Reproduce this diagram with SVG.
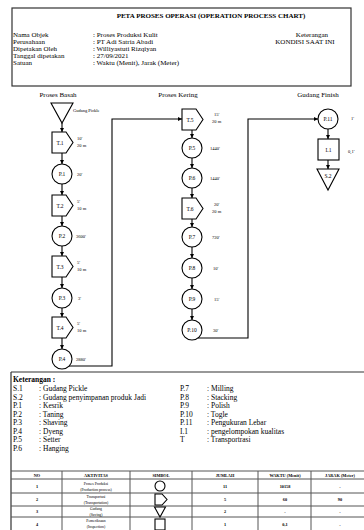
<svg xmlns="http://www.w3.org/2000/svg" width="364" height="530" viewBox="0 0 364 530">
  <style>
    text { font-family: "Liberation Serif", "Times New Roman", serif; fill: #000; }
    .h { font-size: 7px; }
    .hb { font-size: 7px; font-weight: bold; }
    .lg { font-size: 7.5px; }
    .lgb { font-size: 7.5px; font-weight: bold; }
    .ttl { font-size: 7px; }
    .nl { font-size: 5.5px; text-anchor: middle; }
    .sm { font-size: 4.5px; }
    .th { font-size: 4.3px; font-weight: bold; text-anchor: middle; }
    .td { font-size: 3.8px; text-anchor: middle; }
    .shape { fill: #fff; stroke: #000; stroke-width: 1.1; }
    .frame { fill: none; stroke: #333; stroke-width: 1.2; }
    .grid { fill: none; stroke: #555; stroke-width: 1; }
    .flow { fill: none; stroke: #000; stroke-width: 1.1; }
  </style>
  <defs>
    <marker id="ah" viewBox="0 0 6 6" refX="6" refY="3" markerWidth="4" markerHeight="4" orient="auto">
      <path d="M0,0 L6,3 L0,6 Z" fill="#000"/>
    </marker>
    <path id="tpt" d="M0,0 H14 L21,10.5 L14,21 H0 Z"/>
  </defs>

  <!-- header block -->
  <g id="header">
    <rect class="frame" x="12" y="8" width="339" height="78"/>
    <text class="hb" x="211" y="17.5" text-anchor="middle">PETA PROSES OPERASI (OPERATION PROCESS CHART)</text>
    <text class="h" x="13" y="37">Nama Objek</text>
    <text class="h" x="13" y="44">Perusahaan</text>
    <text class="h" x="13" y="51">Dipetakan Oleh</text>
    <text class="h" x="13" y="58">Tanggal dipetakan</text>
    <text class="h" x="13" y="65">Satuan</text>
    <text class="h" x="93" y="37">: Proses Produksi Kulit</text>
    <text class="h" x="93" y="44">: PT Adi Satria Abadi</text>
    <text class="h" x="93" y="51">: Williyastuti Rizqiyan</text>
    <text class="h" x="93" y="58">: 27/09/2021</text>
    <text class="h" x="93" y="65">: Waktu (Menit), Jarak (Meter)</text>
    <text class="h" x="312" y="37" text-anchor="middle">Keterangan</text>
    <text class="h" x="305" y="44" text-anchor="middle">KONDISI SAAT INI</text>
  </g>

  <!-- column titles -->
  <text class="ttl" x="58" y="97" text-anchor="middle">Proses Basah</text>
  <text class="ttl" x="178" y="97" text-anchor="middle">Proses Kering</text>
  <text class="ttl" x="318" y="97" text-anchor="middle">Gudang Finish</text>

  <!-- connectors -->
  <g id="connectors">
    <line class="flow" x1="62" y1="123" x2="62" y2="132" marker-end="url(#ah)"/>
    <line class="flow" x1="62" y1="153" x2="62" y2="164" marker-end="url(#ah)"/>
    <line class="flow" x1="62" y1="184" x2="62" y2="195" marker-end="url(#ah)"/>
    <line class="flow" x1="62" y1="216" x2="62" y2="226" marker-end="url(#ah)"/>
    <line class="flow" x1="62" y1="246" x2="62" y2="256" marker-end="url(#ah)"/>
    <line class="flow" x1="62" y1="277" x2="62" y2="288" marker-end="url(#ah)"/>
    <line class="flow" x1="62" y1="308" x2="62" y2="317" marker-end="url(#ah)"/>
    <line class="flow" x1="62" y1="338" x2="62" y2="349" marker-end="url(#ah)"/>
    <polyline class="flow" points="69,366 112,366 112,119 182,119" marker-end="url(#ah)"/>
    <line class="flow" x1="192" y1="130" x2="192" y2="138" marker-end="url(#ah)"/>
    <line class="flow" x1="192" y1="158" x2="192" y2="168" marker-end="url(#ah)"/>
    <line class="flow" x1="192" y1="188" x2="192" y2="198" marker-end="url(#ah)"/>
    <line class="flow" x1="192" y1="219" x2="192" y2="227" marker-end="url(#ah)"/>
    <line class="flow" x1="192" y1="247" x2="192" y2="258" marker-end="url(#ah)"/>
    <line class="flow" x1="192" y1="278" x2="192" y2="289" marker-end="url(#ah)"/>
    <line class="flow" x1="192" y1="309" x2="192" y2="320" marker-end="url(#ah)"/>
    <polyline class="flow" points="198,338 248,338 248,119 318,119" marker-end="url(#ah)"/>
    <line class="flow" x1="328" y1="129" x2="328" y2="139" marker-end="url(#ah)"/>
    <line class="flow" x1="328" y1="160" x2="328" y2="169" marker-end="url(#ah)"/>
  </g>

  <!-- Proses Basah -->
  <g id="S1">
    <path class="shape" d="M51,103 H73 L62,123 Z"/>
    <text class="sm" x="73" y="111.5">Gudang Pickle</text>
  </g>
  <g id="T1">
    <use href="#tpt" class="shape" x="52" y="132"/>
    <text class="nl" x="60" y="144.5">T.1</text>
    <text class="sm" x="77" y="140">10'</text>
    <text class="sm" x="77" y="147">20 m</text>
  </g>
  <g id="P1">
    <circle class="shape" cx="62" cy="174" r="10"/>
    <text class="nl" x="62" y="176">P.1</text>
    <text class="sm" x="77" y="176">20'</text>
  </g>
  <g id="T2">
    <use href="#tpt" class="shape" x="52" y="195"/>
    <text class="nl" x="60" y="207.5">T.2</text>
    <text class="sm" x="77" y="203">5'</text>
    <text class="sm" x="77" y="210">10 m</text>
  </g>
  <g id="P2">
    <circle class="shape" cx="62" cy="236" r="10"/>
    <text class="nl" x="62" y="238">P.2</text>
    <text class="sm" x="76" y="238">3600'</text>
  </g>
  <g id="T3">
    <use href="#tpt" class="shape" x="52" y="256"/>
    <text class="nl" x="60" y="268.5">T.3</text>
    <text class="sm" x="77" y="264">5'</text>
    <text class="sm" x="77" y="271">10 m</text>
  </g>
  <g id="P3">
    <circle class="shape" cx="62" cy="298" r="10"/>
    <text class="nl" x="62" y="300">P.3</text>
    <text class="sm" x="78" y="300">3'</text>
  </g>
  <g id="T4">
    <use href="#tpt" class="shape" x="52" y="317"/>
    <text class="nl" x="60" y="329.5">T.4</text>
    <text class="sm" x="77" y="325">5'</text>
    <text class="sm" x="77" y="332">10 m</text>
  </g>
  <g id="P4">
    <circle class="shape" cx="62" cy="359" r="10"/>
    <text class="nl" x="62" y="361">P.4</text>
    <text class="sm" x="76" y="361">2880'</text>
  </g>

  <!-- Proses Kering -->
  <g id="T5">
    <use href="#tpt" class="shape" x="182" y="109"/>
    <text class="nl" x="190" y="121.5">T.5</text>
    <text class="sm" x="214" y="116">15'</text>
    <text class="sm" x="212" y="123">20 m</text>
  </g>
  <g id="P5">
    <circle class="shape" cx="192" cy="148" r="10"/>
    <text class="nl" x="192" y="150">P.5</text>
    <text class="sm" x="210" y="150">1440'</text>
  </g>
  <g id="P6">
    <circle class="shape" cx="192" cy="178" r="10"/>
    <text class="nl" x="192" y="180">P.6</text>
    <text class="sm" x="210" y="180">1440'</text>
  </g>
  <g id="T6">
    <use href="#tpt" class="shape" x="182" y="198"/>
    <text class="nl" x="190" y="210.5">T.6</text>
    <text class="sm" x="214" y="206">20'</text>
    <text class="sm" x="212" y="213">20 m</text>
  </g>
  <g id="P7">
    <circle class="shape" cx="192" cy="237" r="10"/>
    <text class="nl" x="192" y="239">P.7</text>
    <text class="sm" x="212" y="239">720'</text>
  </g>
  <g id="P8">
    <circle class="shape" cx="192" cy="268" r="10"/>
    <text class="nl" x="192" y="270">P.8</text>
    <text class="sm" x="213" y="270">10'</text>
  </g>
  <g id="P9">
    <circle class="shape" cx="192" cy="299" r="10"/>
    <text class="nl" x="192" y="301">P.9</text>
    <text class="sm" x="214" y="301">15'</text>
  </g>
  <g id="P10">
    <circle class="shape" cx="192" cy="330" r="10"/>
    <text class="nl" x="192" y="332">P.10</text>
    <text class="sm" x="213" y="332">30'</text>
  </g>

  <!-- Gudang Finish -->
  <g id="P11">
    <circle class="shape" cx="328" cy="119" r="10"/>
    <text class="nl" x="328" y="121">P.11</text>
    <text class="sm" x="351" y="120">1'</text>
  </g>
  <g id="I1">
    <rect class="shape" x="318" y="139" width="21" height="21"/>
    <text class="nl" x="328.5" y="151.5">I.1</text>
    <text class="sm" x="348" y="153">0,1'</text>
  </g>
  <g id="S2">
    <path class="shape" d="M317,169 H339 L328,190 Z"/>
    <text class="nl" x="328" y="178">S.2</text>
  </g>

  <!-- legend -->
  <g id="legend">
    <path class="frame" d="M11,372 H364 M11,372 V530"/>
    <text class="lgb" x="13" y="382">Keterangan :</text>
    <g class="lg">
      <text x="13" y="391">S.1</text><text x="39" y="391">: Gudang Pickle</text>
      <text x="13" y="399.5">S.2</text><text x="39" y="399.5">: Gudang penyimpanan produk Jadi</text>
      <text x="13" y="408">P.1</text><text x="39" y="408">: Kesrik</text>
      <text x="13" y="416.5">P.2</text><text x="39" y="416.5">: Taning</text>
      <text x="13" y="425">P.3</text><text x="39" y="425">: Shaving</text>
      <text x="13" y="433.5">P.4</text><text x="39" y="433.5">: Dyeng</text>
      <text x="13" y="442">P.5</text><text x="39" y="442">: Setter</text>
      <text x="13" y="450.5">P.6</text><text x="39" y="450.5">: Hanging</text>
      <text x="180" y="391">P.7</text><text x="207" y="391">: Milling</text>
      <text x="180" y="399.5">P.8</text><text x="207" y="399.5">: Stacking</text>
      <text x="180" y="408">P.9</text><text x="207" y="408">: Polish</text>
      <text x="180" y="416.5">P.10</text><text x="207" y="416.5">: Togle</text>
      <text x="180" y="425">P.11</text><text x="207" y="425">: Pengukuran Lebar</text>
      <text x="180" y="433.5">I.1</text><text x="207" y="433.5">: pengelompokan kualitas</text>
      <text x="180" y="442">T</text><text x="207" y="442">: Transportrasi</text>
    </g>
  </g>

  <!-- summary table -->
  <g id="summary">
    <path class="grid" d="M11,471 H364 M11,479 H364 M11,493 H364 M11,506 H364 M11,517 H364"/>
    <path class="grid" d="M62,471 V530 M130,471 V530 M192,471 V530 M258,471 V530 M311,471 V530"/>
    <text class="th" x="37" y="477">NO</text>
    <text class="th" x="96" y="477">AKTIVITAS</text>
    <text class="th" x="161" y="477">SIMBOL</text>
    <text class="th" x="225" y="477">JUMLAH</text>
    <text class="th" x="285" y="477">WAKTU (Menit)</text>
    <text class="th" x="340" y="477">JARAK (Meter)</text>

    <text class="th" x="37" y="488">1</text>
    <text class="td" x="96" y="484.5">Proses Produksi</text>
    <text class="td" x="96" y="490.5">(Production process)</text>
    <circle class="shape" cx="160" cy="486" r="5"/>
    <text class="th" x="225" y="488">11</text>
    <text class="th" x="285" y="488">10158</text>
    <text class="th" x="340" y="488">-</text>

    <text class="th" x="37" y="501">2</text>
    <text class="td" x="96" y="497.5">Transportasi</text>
    <text class="td" x="96" y="503.5">(Transportation)</text>
    <path class="shape" d="M155,494 H162 L167,499.5 L162,505 H155 Z"/>
    <text class="th" x="225" y="501">5</text>
    <text class="th" x="285" y="501">60</text>
    <text class="th" x="340" y="501">90</text>

    <text class="th" x="37" y="513">3</text>
    <text class="td" x="96" y="510">Gudang</text>
    <text class="td" x="96" y="515.5">(Saving)</text>
    <path class="shape" d="M154.5,507 H165.5 L160,517 Z"/>
    <text class="th" x="225" y="513">2</text>
    <text class="th" x="285" y="513">-</text>
    <text class="th" x="340" y="513">-</text>

    <text class="th" x="37" y="526">4</text>
    <text class="td" x="96" y="521.5">Pemeriksaan</text>
    <text class="td" x="96" y="527.5">(Inspection)</text>
    <rect class="shape" x="155" y="519" width="10" height="11"/>
    <text class="th" x="225" y="526">1</text>
    <text class="th" x="285" y="526">0,1</text>
    <text class="th" x="340" y="526">-</text>
  </g>
</svg>
